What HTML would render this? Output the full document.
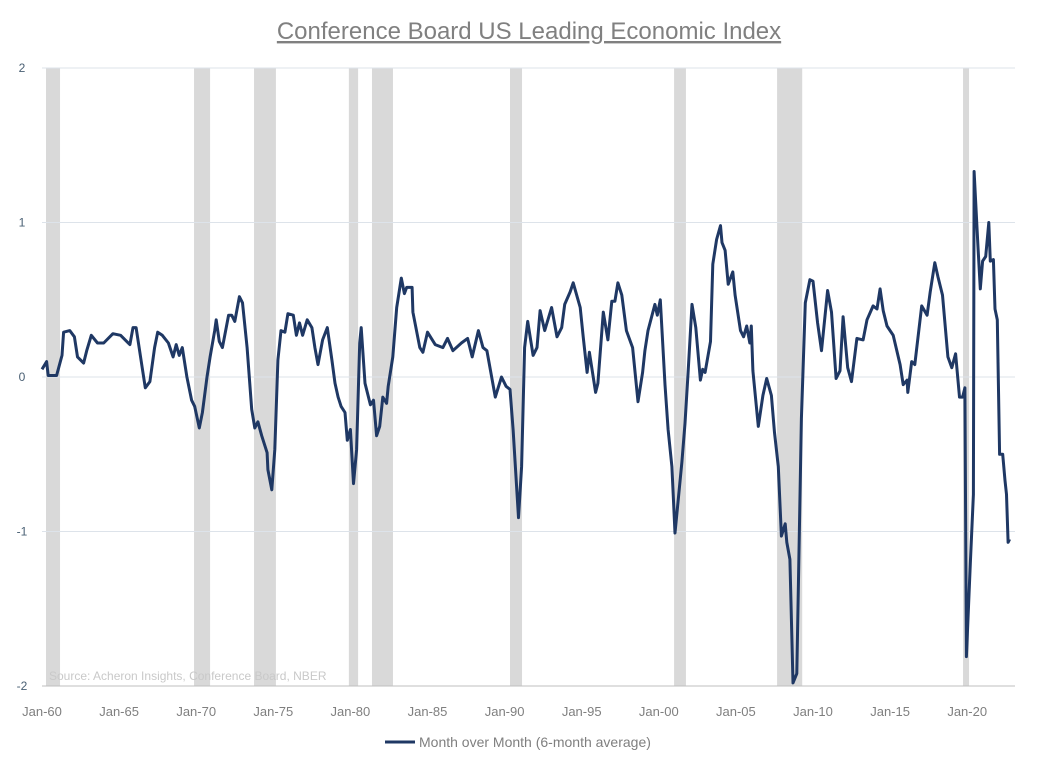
<!DOCTYPE html>
<html><head><meta charset="utf-8">
<style>
body{margin:0;background:#fff;width:1060px;height:771px;overflow:hidden;font-family:"Liberation Sans",sans-serif;}
svg text{font-family:"Liberation Sans",sans-serif;}
</style></head>
<body>
<svg id="chart" width="1060" height="771" viewBox="0 0 1060 771" xmlns="http://www.w3.org/2000/svg">
<text x="529" y="39" text-anchor="middle" font-size="24" fill="#808080" text-decoration="underline">Conference Board US Leading Economic Index</text>
<g id="rec"></g>
<g id="grid"></g>
<g id="yax"></g>
<g id="xax"></g>
<text x="49" y="680" font-size="12" fill="#c9c9c9">Source: Acheron Insights, Conference Board, NBER</text>
<path id="series" fill="none" stroke="#1f3864" stroke-width="3" stroke-linejoin="round"/>
<g>
<line x1="385" y1="742" x2="415" y2="742" stroke="#1f3864" stroke-width="3"/>
<text x="419" y="747" font-size="14" fill="#7f7f7f">Month over Month (6-month average)</text>
</g>
</svg>
<script>
const years=[1960.0,1960.3,1960.4,1960.95,1961.3,1961.4,1961.8,1962.1,1962.3,1962.7,1962.9,1963.2,1963.6,1964.0,1964.6,1965.1,1965.7,1965.9,1966.1,1966.5,1966.7,1967.0,1967.3,1967.5,1967.8,1968.2,1968.5,1968.7,1968.9,1969.1,1969.4,1969.7,1969.9,1970.2,1970.4,1970.7,1970.9,1971.2,1971.3,1971.5,1971.7,1972.1,1972.3,1972.5,1972.8,1973.0,1973.3,1973.6,1973.8,1974.0,1974.25,1974.6,1974.65,1974.9,1975.1,1975.3,1975.5,1975.75,1975.95,1976.3,1976.5,1976.7,1976.9,1977.2,1977.5,1977.7,1977.9,1978.2,1978.5,1978.8,1979.0,1979.2,1979.4,1979.65,1979.8,1980.0,1980.2,1980.4,1980.6,1980.7,1980.95,1981.3,1981.5,1981.7,1981.9,1982.1,1982.35,1982.45,1982.75,1983.0,1983.3,1983.5,1983.65,1984.0,1984.05,1984.5,1984.7,1985.0,1985.5,1986.0,1986.3,1986.65,1987.2,1987.6,1987.9,1988.3,1988.6,1988.85,1989.4,1989.8,1990.1,1990.35,1990.55,1990.9,1991.1,1991.3,1991.5,1991.85,1992.1,1992.3,1992.6,1993.05,1993.4,1993.7,1993.9,1994.25,1994.45,1994.9,1995.1,1995.35,1995.5,1995.9,1996.05,1996.4,1996.7,1996.95,1997.15,1997.35,1997.6,1997.9,1998.3,1998.65,1998.95,1999.1,1999.3,1999.75,1999.9,2000.1,2000.4,2000.6,2000.85,2001.05,2001.5,2001.7,2001.9,2002.15,2002.4,2002.7,2002.85,2003.0,2003.35,2003.5,2003.75,2004.0,2004.1,2004.3,2004.5,2004.8,2004.95,2005.3,2005.5,2005.7,2005.9,2006.0,2006.1,2006.45,2006.75,2007.0,2007.3,2007.5,2007.75,2007.95,2008.2,2008.3,2008.5,2008.7,2008.95,2009.25,2009.5,2009.8,2010.0,2010.3,2010.55,2010.95,2011.2,2011.5,2011.75,2011.95,2012.25,2012.5,2012.85,2013.25,2013.5,2013.9,2014.15,2014.35,2014.55,2014.8,2015.2,2015.65,2015.85,2016.1,2016.15,2016.4,2016.6,2017.05,2017.4,2017.6,2017.9,2018.1,2018.4,2018.75,2019.0,2019.25,2019.5,2019.7,2019.85,2019.95,2020.2,2020.4,2020.45,2020.7,2020.85,2021.0,2021.2,2021.4,2021.5,2021.7,2021.8,2021.95,2022.1,2022.3,2022.45,2022.55,2022.65,2022.75];
const values=[0.05,0.10,0.01,0.01,0.14,0.29,0.30,0.26,0.13,0.09,0.17,0.27,0.22,0.22,0.28,0.27,0.21,0.32,0.32,0.06,-0.07,-0.03,0.19,0.29,0.27,0.22,0.13,0.21,0.14,0.19,0,-0.15,-0.19,-0.33,-0.23,0,0.13,0.30,0.37,0.23,0.19,0.40,0.40,0.36,0.52,0.48,0.19,-0.21,-0.33,-0.29,-0.38,-0.49,-0.60,-0.73,-0.47,0.11,0.30,0.29,0.41,0.40,0.27,0.35,0.27,0.37,0.32,0.19,0.08,0.24,0.32,0.11,-0.04,-0.13,-0.19,-0.23,-0.41,-0.34,-0.69,-0.47,0.22,0.32,-0.04,-0.18,-0.15,-0.38,-0.32,-0.13,-0.17,-0.06,0.13,0.45,0.64,0.54,0.58,0.58,0.42,0.19,0.16,0.29,0.21,0.19,0.25,0.17,0.22,0.25,0.13,0.30,0.19,0.17,-0.13,0,-0.06,-0.08,-0.34,-0.91,-0.58,0.19,0.36,0.14,0.19,0.43,0.30,0.45,0.26,0.32,0.47,0.55,0.61,0.45,0.26,0.03,0.16,-0.10,-0.04,0.42,0.24,0.49,0.49,0.61,0.53,0.30,0.19,-0.16,0.03,0.17,0.30,0.47,0.40,0.50,-0.05,-0.34,-0.58,-1.01,-0.55,-0.30,0.03,0.47,0.32,-0.02,0.05,0.03,0.23,0.73,0.89,0.98,0.87,0.82,0.60,0.68,0.53,0.30,0.26,0.33,0.22,0.33,0.04,-0.32,-0.12,-0.01,-0.12,-0.36,-0.58,-1.03,-0.95,-1.07,-1.18,-1.98,-1.92,-0.27,0.48,0.63,0.62,0.35,0.17,0.56,0.42,-0.01,0.04,0.39,0.06,-0.03,0.25,0.24,0.37,0.46,0.44,0.57,0.43,0.33,0.27,0.08,-0.05,-0.02,-0.10,0.10,0.08,0.46,0.40,0.55,0.74,0.65,0.53,0.13,0.06,0.15,-0.13,-0.13,-0.07,-1.81,-1.21,-0.76,1.33,0.84,0.57,0.75,0.78,1.00,0.75,0.76,0.44,0.37,-0.50,-0.50,-0.67,-0.76,-1.07,-1.05];
const recStarts=[1960.26,1969.86,1973.75,1979.9,1981.4,1990.35,2000.99,2007.67,2019.73];
const recEnds=[1961.17,1970.9,1975.17,1980.5,1982.76,1991.13,2001.76,2009.3,2020.12];
const yTicks=[2,1,0,-1,-2];
const xTickYears=[1960,1965,1970,1975,1980,1985,1990,1995,2000,2005,2010,2015,2020];
const xTickLabels=["Jan-60","Jan-65","Jan-70","Jan-75","Jan-80","Jan-85","Jan-90","Jan-95","Jan-00","Jan-05","Jan-10","Jan-15","Jan-20"];

const NS="http://www.w3.org/2000/svg";
const X0=42,XR=1015,PXY=15.42,Y0=377,PXV=154.5;
function xs(yr){return X0+(yr-1960)*PXY;}
function ys(v){return Y0-v*PXV;}
function mk(tag,attrs,parent){const e=document.createElementNS(NS,tag);for(const k in attrs)e.setAttribute(k,attrs[k]);parent.appendChild(e);return e;}

const rec=document.getElementById('rec');
recStarts.forEach((s,i)=>{
  const r=mk('rect',{x:xs(s),y:ys(2),width:xs(recEnds[i])-xs(s),height:ys(-2)-ys(2),fill:'#d9d9d9'},rec);
  
  
});
const grid=document.getElementById('grid'),yax=document.getElementById('yax');
yTicks.forEach(t=>{
  const l=mk('line',{x1:X0,x2:XR,y1:ys(t),y2:ys(t),stroke:t===-2?'#bfbfbf':'#dde3ea','stroke-width':1},grid);
  
  
  const tx=mk('text',{x:22,y:ys(t)+4,'font-size':12,fill:'#4a6074','text-anchor':'middle'},yax);
  tx.textContent=String(t);
  
  
});
const xax=document.getElementById('xax');
xTickYears.forEach((yr,i)=>{
  const tx=mk('text',{x:xs(yr),y:716,'font-size':13,fill:'#7f7f7f','text-anchor':'middle'},xax);
  tx.textContent=xTickLabels[i];
  
  
});
let d='';
years.forEach((yr,i)=>{d+=(i?'L':'M')+xs(yr).toFixed(1)+' '+ys(values[i]).toFixed(1);});
document.getElementById('series').setAttribute('d',d);
</script>
</body></html>
